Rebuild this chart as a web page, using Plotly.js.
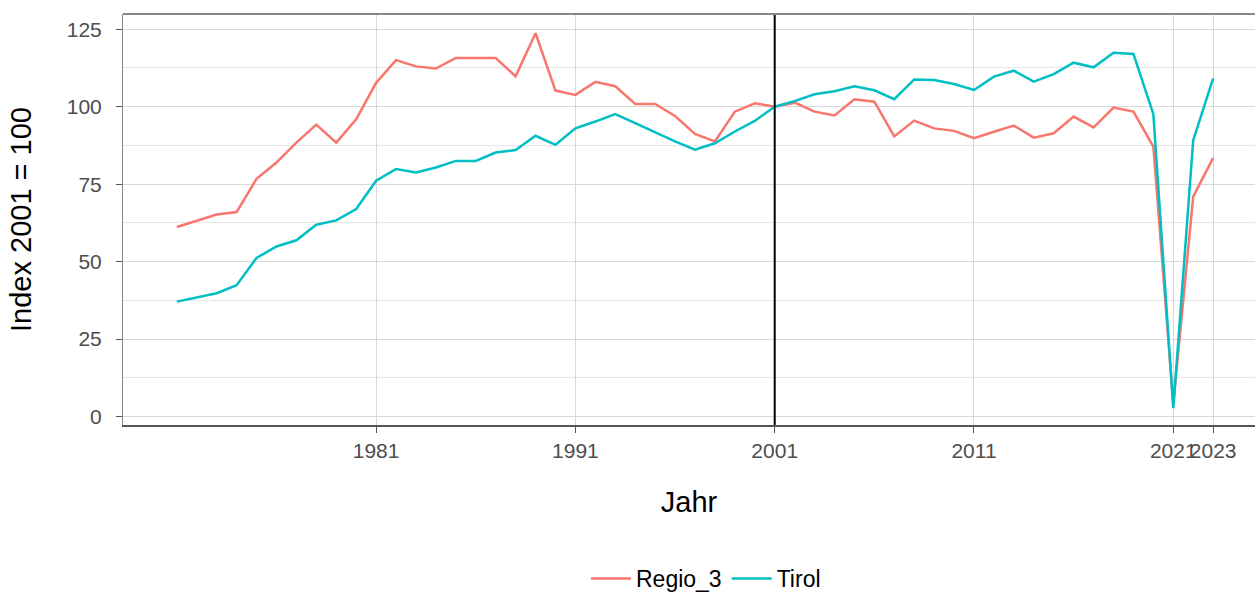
<!DOCTYPE html>
<html>
<head>
<meta charset="utf-8">
<script src="https://cdn.plot.ly/plotly-3.0.1.min.js"></script>
<style>html,body{margin:0;padding:0;background:#fff;}#chart{width:1255px;height:600px;}</style>
</head>
<body>
<div id="chart"></div>
<script>
const years = [];
for (let y = 1971; y <= 2023; y++) years.push(y);

const regio3 = [61.2, 63.3, 65.2, 66.0, 76.7, 82.0, 88.4, 94.2, 88.4, 95.9,
  107.7, 115.0, 113.0, 112.3, 115.7, 115.7, 115.7, 109.8, 123.7, 105.2,
  103.8, 108.0, 106.6, 100.9, 100.9, 97.0, 91.2, 88.8, 98.4, 101.1,
  100.0, 101.3, 98.4, 97.2, 102.4, 101.6, 90.4, 95.5, 93.0, 92.2,
  89.8, 91.9, 93.9, 90.0, 91.4, 96.8, 93.3, 99.7, 98.4, 87.1,
  4.0, 71.0, 83.5];

const tirol = [37.1, 38.4, 39.8, 42.4, 51.2, 54.9, 56.9, 61.9, 63.3, 67.0,
  76.1, 79.9, 78.8, 80.4, 82.5, 82.5, 85.2, 86.0, 90.6, 87.7,
  93.0, 95.2, 97.6, 94.7, 91.7, 88.8, 86.1, 88.2, 92.0, 95.4,
  100.0, 101.8, 104.0, 105.0, 106.6, 105.3, 102.4, 108.8, 108.6, 107.3,
  105.4, 109.7, 111.6, 108.1, 110.5, 114.2, 112.7, 117.4, 117.0, 97.6,
  2.7, 89.2, 109.1];

const xTicks = [1981, 1991, 2001, 2011, 2021, 2023];
const yTicks = [0, 25, 50, 75, 100, 125];
const refYear = 2001;

const font = "Liberation Sans, Arial, sans-serif";

const traces = [
  {x: years, y: regio3, type: 'scatter', mode: 'lines', name: 'Regio_3',
   line: {color: '#F8766D', width: 2.5}},
  {x: years, y: tirol, type: 'scatter', mode: 'lines', name: 'Tirol',
   line: {color: '#00BFC4', width: 2.5}}
];

const layout = {
  width: 1255, height: 600,
  margin: {l: 123, r: 0, t: 14, b: 175},
  paper_bgcolor: '#fff', plot_bgcolor: '#fff',
  font: {family: font},
  showlegend: true,
  legend: {orientation: 'h', xref: 'paper', x: 0.515, xanchor: 'center',
    yref: 'container', y: 0, yanchor: 'bottom',
    font: {size: 23, color: '#000', family: font}, itemwidth: 40, traceorder: 'normal'},
  xaxis: {
    range: [1968.3, 2025.1], tickvals: xTicks, ticktext: xTicks.map(String),
    tickangle: 0, automargin: false,
    showgrid: true, gridcolor: '#d9d9d9', gridwidth: 1,
    zeroline: false, showline: true, linecolor: '#555', linewidth: 2,
    ticks: 'outside', ticklen: 6, tickcolor: '#555',
    tickfont: {size: 21, color: '#4d4d4d', family: font},
    title: {text: 'Jahr', font: {size: 29, color: '#000', family: font}, standoff: 30}
  },
  yaxis: {
    range: [-2.7, 129.9], tickvals: yTicks, automargin: false,
    showgrid: true, gridcolor: '#d9d9d9', gridwidth: 1,
    minor: {tick0: 0, dtick: 12.5, showgrid: true, gridcolor: '#e6e6e6', gridwidth: 1},
    zeroline: false, showline: true, linecolor: '#888', linewidth: 1,
    ticks: 'outside', ticklen: 6, tickcolor: '#555', ticklabelstandoff: 10,
    tickfont: {size: 21, color: '#4d4d4d', family: font},
    title: {text: 'Index 2001 = 100', font: {size: 29, color: '#000', family: font}, standoff: 26}
  },
  shapes: [
    {type: 'line', xref: 'x', yref: 'paper', x0: refYear, x1: refYear, y0: 0, y1: 1,
     line: {color: '#000', width: 2}},
    {type: 'line', xref: 'paper', yref: 'paper', x0: 0, x1: 1, y0: 1, y1: 1,
     line: {color: '#888', width: 2}}
  ]
};

Plotly.newPlot('chart', traces, layout, {displayModeBar: false, staticPlot: true});
</script>
</body>
</html>
